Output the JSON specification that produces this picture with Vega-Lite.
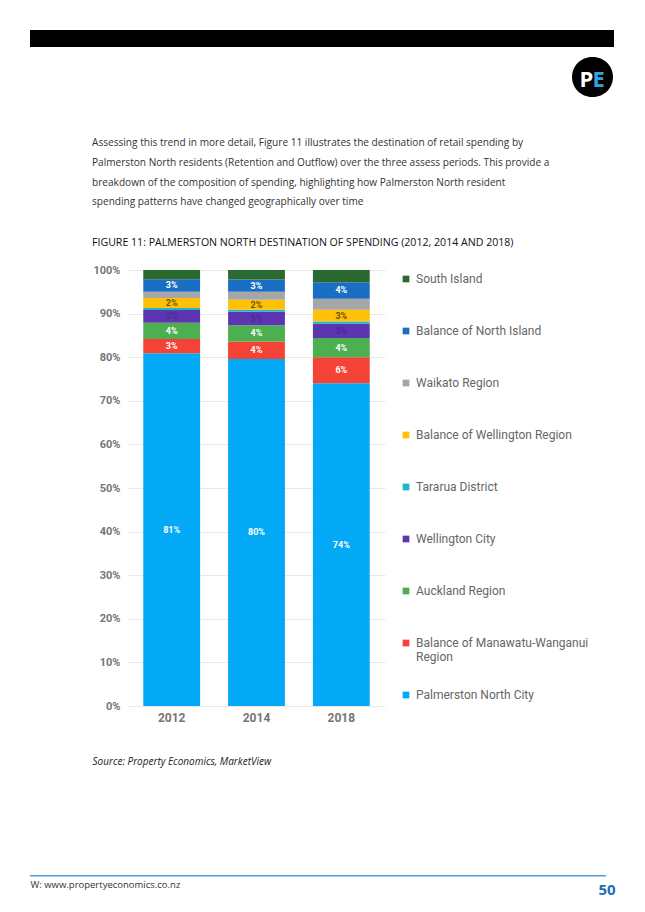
{
  "$schema": "https://vega.github.io/schema/vega-lite/v6.json",
  "background": "white",
  "padding": {"left": 30, "top": 30, "right": 0, "bottom": 0},
  "spacing": 10,
  "config": {"view": {"stroke": null}, "font": "Roboto"},
  "resolve": {"scale": {"color": "independent"}, "legend": {"color": "independent"}},
  "vconcat": [
    {
      "width": 584,
      "height": 17,
      "view": {"fill": "black", "stroke": null},
      "data": {"values": []},
      "mark": "text",
      "encoding": {}
    },
    {
      "spacing": 41,
      "resolve": {"scale": {"color": "independent"}, "legend": {"color": "independent"}},
      "vconcat": [
        {
          "spacing": 0,
          "hconcat": [
            {"width": 542, "height": 1, "data": {"values": []}, "mark": "text", "encoding": {}},
            {
              "width": 41,
              "height": 40,
              "view": {"fill": "black", "stroke": null, "cornerRadius": 20.5},
              "data": {"values": []},
              "mark": "point",
              "encoding": {
                "x": {
                  "field": "a",
                  "type": "quantitative",
                  "scale": {"domain": [0, 1]},
                  "axis": {
                    "labels": false, "ticks": false, "domain": false, "grid": false,
                    "title": "E", "titleX": 20, "titleY": -11, "titleAlign": "left", "titleBaseline": "alphabetic",
                    "titleFont": "Open Sans", "titleFontSize": 22, "titleFontWeight": "bold", "titleColor": "#2aa6e6"
                  }
                },
                "y": {
                  "field": "b",
                  "type": "quantitative",
                  "scale": {"domain": [0, 1]},
                  "axis": {
                    "labels": false, "ticks": false, "domain": false, "grid": false,
                    "title": "P", "titleAngle": 0, "titleX": 7, "titleY": 29, "titleAlign": "left", "titleBaseline": "alphabetic",
                    "titleFont": "Open Sans", "titleFontSize": 22, "titleFontWeight": "bold", "titleColor": "white"
                  }
                }
              }
            }
          ]
        },
        {
          "spacing": 109,
          "resolve": {"scale": {"color": "independent"}, "legend": {"color": "independent"}},
          "vconcat": [
            {
              "spacing": 0,
              "resolve": {"scale": {"color": "independent"}, "legend": {"color": "independent"}},
              "hconcat": [
                {"width": 62, "height": 1, "data": {"values": []}, "mark": "text", "encoding": {}},
                {
                  "width": 257,
                  "height": 436,
                  "title": {
                    "text": [
                      "Assessing this trend in more detail, Figure 11 illustrates the destination of retail spending by",
                      "Palmerston North residents (Retention and Outflow) over the three assess periods. This provide a",
                      "breakdown of the composition of spending, highlighting how Palmerston North resident",
                      "spending patterns have changed geographically over time"
                    ],
                    "subtitle": "FIGURE 11: PALMERSTON NORTH DESTINATION OF SPENDING (2012, 2014 AND 2018)",
                    "anchor": "start",
                    "frame": "group",
                    "dx": -36,
                    "offset": 15,
                    "font": "Open Sans",
                    "fontSize": 10.1,
                    "fontWeight": "normal",
                    "color": "#333333",
                    "lineHeight": 19.7,
                    "subtitleFont": "Open Sans",
                    "subtitleFontSize": 10.6,
                    "subtitleFontWeight": 500,
                    "subtitleColor": "#111111",
                    "subtitlePadding": 31
                  },
                  "data": {
                    "values": [
                      {"year": "2012", "series": "Palmerston North City", "share": 0.809},
                      {"year": "2012", "series": "Balance of Manawatu-Wanganui Region", "share": 0.033},
                      {"year": "2012", "series": "Auckland Region", "share": 0.037},
                      {"year": "2012", "series": "Wellington City", "share": 0.029},
                      {"year": "2012", "series": "Tararua District", "share": 0.005},
                      {"year": "2012", "series": "Balance of Wellington Region", "share": 0.023},
                      {"year": "2012", "series": "Waikato Region", "share": 0.014},
                      {"year": "2012", "series": "Balance of North Island", "share": 0.029},
                      {"year": "2012", "series": "South Island", "share": 0.021},
                      {"year": "2014", "series": "Palmerston North City", "share": 0.796},
                      {"year": "2014", "series": "Balance of Manawatu-Wanganui Region", "share": 0.040},
                      {"year": "2014", "series": "Auckland Region", "share": 0.037},
                      {"year": "2014", "series": "Wellington City", "share": 0.031},
                      {"year": "2014", "series": "Tararua District", "share": 0.005},
                      {"year": "2014", "series": "Balance of Wellington Region", "share": 0.023},
                      {"year": "2014", "series": "Waikato Region", "share": 0.018},
                      {"year": "2014", "series": "Balance of North Island", "share": 0.028},
                      {"year": "2014", "series": "South Island", "share": 0.022},
                      {"year": "2018", "series": "Palmerston North City", "share": 0.740},
                      {"year": "2018", "series": "Balance of Manawatu-Wanganui Region", "share": 0.060},
                      {"year": "2018", "series": "Auckland Region", "share": 0.044},
                      {"year": "2018", "series": "Wellington City", "share": 0.033},
                      {"year": "2018", "series": "Tararua District", "share": 0.005},
                      {"year": "2018", "series": "Balance of Wellington Region", "share": 0.027},
                      {"year": "2018", "series": "Waikato Region", "share": 0.025},
                      {"year": "2018", "series": "Balance of North Island", "share": 0.038},
                      {"year": "2018", "series": "South Island", "share": 0.028}
                    ]
                  },
                  "transform": [
                    {"stack": "share", "groupby": ["year"], "as": ["v0", "v1"]}
                  ],
                  "encoding": {
                    "x": {
                      "field": "year",
                      "type": "nominal",
                      "scale": {"paddingInner": 0.33, "paddingOuter": 0.18},
                      "axis": {
                        "title": "Source: Property Economics, MarketView",
                        "titleX": -36,
                        "titleY": 55,
                        "titleAlign": "left",
                        "titleBaseline": "middle",
                        "titleFont": "Open Sans",
                        "titleFontStyle": "italic",
                        "titleFontSize": 10,
                        "titleFontWeight": "normal",
                        "titleColor": "#222222",
                        "labelAngle": 0,
                        "labelPadding": 6,
                        "labelFontSize": 12,
                        "labelColor": "#757575",
                        "labelFontWeight": "bold",
                        "domain": false,
                        "ticks": false
                      }
                    }
                  },
                  "layer": [
                    {
                      "mark": {"type": "bar"},
                      "encoding": {
                        "y": {
                          "field": "v0",
                          "type": "quantitative",
                          "scale": {"domain": [0, 1], "nice": false},
                          "axis": {
                            "values": [0, 0.1, 0.2, 0.3, 0.4, 0.5, 0.6, 0.7, 0.8, 0.9, 1],
                            "format": ".0%",
                            "title": null,
                            "domain": false,
                            "ticks": false,
                            "labelPadding": 8,
                            "labelColor": "#757575",
                            "labelFontSize": 11,
                            "labelFontWeight": "bold",
                            "gridColor": "#e8e8e8"
                          }
                        },
                        "y2": {"field": "v1"},
                        "color": {
                          "field": "series",
                          "type": "nominal",
                          "scale": {
                            "domain": ["South Island", "Balance of North Island", "Waikato Region", "Balance of Wellington Region", "Tararua District", "Wellington City", "Auckland Region", "Balance of Manawatu-Wanganui Region", "Palmerston North City"],
                            "range": ["#2b6a2e", "#1a6fc4", "#a6a6a6", "#ffc107", "#1bb8c9", "#5e35b1", "#4caf50", "#f44336", "#03a9f4"]
                          },
                          "legend": {
                            "title": null,
                            "orient": "right",
                            "offset": 12,
                            "padding": 3,
                            "symbolType": "square",
                            "symbolSize": 45,
                            "symbolStrokeWidth": 0,
                            "labelOffset": 4,
                            "labelFontSize": 12,
                            "labelColor": "#666666",
                            "labelLimit": 260,
                            "gridAlign": "all",
                            "rowPadding": 26,
                            "labelExpr": "datum.label == 'Balance of Manawatu-Wanganui Region' ? ['Balance of Manawatu-Wanganui', 'Region'] : datum.label"
                          }
                        }
                      }
                    },
                    {
                      "transform": [
                        {"filter": {"field": "series", "oneOf": ["Balance of North Island", "Balance of Wellington Region", "Wellington City", "Auckland Region", "Balance of Manawatu-Wanganui Region", "Palmerston North City"]}},
                        {"fold": ["v0", "v1"], "as": ["edge", "pos"]},
                        {"aggregate": [{"op": "mean", "field": "pos", "as": "mid"}], "groupby": ["year", "series", "share"]}
                      ],
                      "mark": {"type": "text", "fontSize": 9, "fontWeight": "bold", "baseline": "middle"},
                      "encoding": {
                        "y": {"field": "mid", "type": "quantitative"},
                        "text": {"field": "share", "type": "quantitative", "format": ".0%"},
                        "color": {
                          "condition": [
                            {"test": "datum.series === 'Balance of Wellington Region'", "value": "#6b5200"},
                            {"test": "datum.series === 'Wellington City'", "value": "#4a2a94"}
                          ],
                          "value": "white"
                        }
                      }
                    }
                  ]
                }
              ]
            },
            {
              "width": 576,
              "height": 1.5,
              "view": {"fill": "#5b9bd5", "stroke": null},
              "data": {"values": []},
              "mark": "point",
              "encoding": {
                "x": {
                  "field": "a",
                  "type": "quantitative",
                  "scale": {"domain": [0, 1]},
                  "axis": {
                    "labels": false, "ticks": false, "domain": false, "grid": false,
                    "title": "W: www.propertyeconomics.co.nz", "titleX": 0, "titleY": 7.5, "titleAlign": "left", "titleBaseline": "middle",
                    "titleFont": "Open Sans", "titleFontSize": 9.5, "titleFontWeight": "normal", "titleColor": "#333333"
                  }
                },
                "y": {
                  "field": "b",
                  "type": "quantitative",
                  "scale": {"domain": [0, 1]},
                  "axis": {
                    "orient": "right",
                    "labels": false, "ticks": false, "domain": false, "grid": false,
                    "title": "50", "titleAngle": 0, "titleX": -8, "titleY": 14, "titleAlign": "left", "titleBaseline": "middle",
                    "titleFont": "Open Sans", "titleFontSize": 15, "titleFontWeight": "bold", "titleColor": "#1d6fb8"
                  }
                }
              }
            }
          ]
        }
      ]
    }
  ]
}
